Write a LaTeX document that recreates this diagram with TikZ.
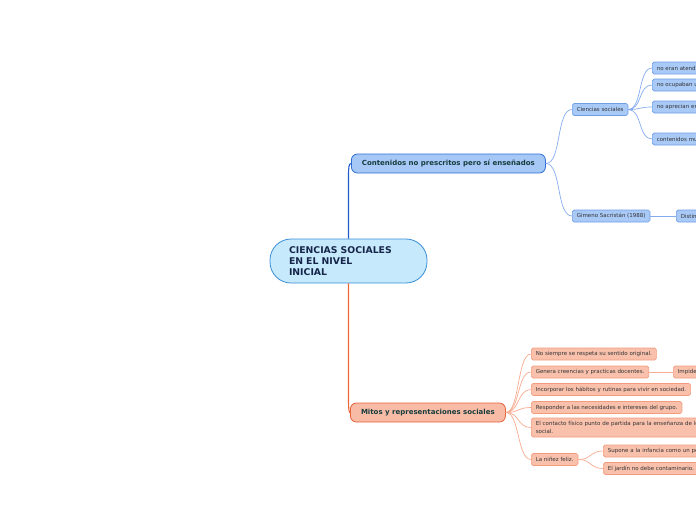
\documentclass[tikz,border=0pt]{standalone}
\usepackage{fontspec}
\setmainfont{DejaVu Sans}
\definecolor{rootfill}{HTML}{C6E9FB}
\definecolor{rootdraw}{HTML}{3A8FD9}
\definecolor{roottext}{HTML}{16264A}
\definecolor{bmainfill}{HTML}{A6C8F7}
\definecolor{bmaindraw}{HTML}{2F6ED4}
\definecolor{bleaffill}{HTML}{A9CAF7}
\definecolor{bleafdraw}{HTML}{6E9DE6}
\definecolor{bline}{HTML}{86ACEF}
\definecolor{bmainline}{HTML}{1F5CC8}
\definecolor{omainfill}{HTML}{F8BCA6}
\definecolor{omaindraw}{HTML}{E8603A}
\definecolor{oleaffill}{HTML}{F9C1AC}
\definecolor{oleafdraw}{HTML}{F39B7D}
\definecolor{oline}{HTML}{F7AB90}
\definecolor{omainline}{HTML}{EE6535}
\definecolor{maintext}{HTML}{173C3C}
\definecolor{leaftext}{HTML}{333333}
\begin{document}
\begin{tikzpicture}[x=1pt,y=-1pt,
  leafbase/.style={rectangle, rounded corners=1.8pt, line width=0.6pt, anchor=west,
    inner xsep=4.5pt, inner ysep=0pt, minimum height=12pt, align=left,
    text=leaftext, font=\fontsize{5.5}{7.5}\selectfont},
  bleaf/.style={leafbase, draw=bleafdraw, fill=bleaffill},
  oleaf/.style={leafbase, draw=oleafdraw, fill=oleaffill},
  mainbase/.style={rectangle, rounded corners=6pt, line width=0.8pt, anchor=west,
    inner xsep=10pt, inner ysep=0pt, minimum height=19pt, text=maintext,
    font=\fontsize{7}{8}\selectfont\bfseries},
  bmain/.style={mainbase, draw=bmaindraw, fill=bmainfill},
  omain/.style={mainbase, draw=omaindraw, fill=omainfill},
  rootbox/.style={rectangle, rounded corners=21pt, line width=0.8pt, draw=rootdraw,
    fill=rootfill, text=roottext, align=left, inner xsep=19pt, inner ysep=0pt,
    text width=119pt, minimum height=44pt,
    font=\fontsize{9.3}{11}\selectfont\bfseries},
  blink/.style={draw=bline, line width=0.7pt},
  olink/.style={draw=oline, line width=0.7pt},
]
\useasboundingbox (0,0) rectangle (696,520);
\clip (0,0) rectangle (696,520);

% root
\node[rootbox] (root) at (348.5,261) {CIENCIAS SOCIALES\\EN EL NIVEL\\INICIAL};

% level 1
\node[bmain, minimum width=194pt] (cont) at (351,163.5) {Contenidos no prescritos pero sí enseñados};
\node[omain, minimum width=155pt] (mitos) at (350,412.5) {Mitos y representaciones sociales};

\draw[bmainline, line width=1.1pt] (root.north) -- (348.5,176) .. controls (348.5,167) and (349,163.5) .. (cont.west);
\draw[omainline, line width=1.1pt] (root.south) -- (348.5,400) .. controls (348.5,409) and (349,412.5) .. (mitos.west);

% blue branch
\node[bleaf] (cs) at (572,109.5) {Ciencias sociales};
\node[bleaf] (gim) at (572,216) {Gimeno Sacristán (1988)};
\node[bleaf, text width=70pt] (b1) at (652,68) {no eran atendi};
\node[bleaf, text width=70pt] (b2) at (652,85) {no ocupaban u};
\node[bleaf, text width=70pt] (b3) at (652,107) {no aprecian en};
\node[bleaf, text width=70pt] (b4) at (652,139) {contenidos mu};
\node[bleaf, text width=40pt] (dis) at (676,216) {Distin};

\draw[blink] (cont.east) .. controls +(16,0) and +(-16,0) .. (cs.west);
\draw[blink] (cont.east) .. controls +(16,0) and +(-16,0) .. (gim.west);
\foreach \t in {b1,b2,b3,b4}
  \draw[blink] (cs.east) .. controls +(14,0) and +(-14,0) .. (\t.west);
\draw[blink] (gim.east) -- (dis.west);

% orange branch
\node[oleaf] (o1) at (531,354) {No siempre se respeta su sentido original.};
\node[oleaf] (o2) at (531,372) {Genera creencias y practicas docentes.};
\node[oleaf] (o3) at (531,389.5) {Incorporar los hábitos y rutinas para vivir en sociedad.};
\node[oleaf] (o4) at (531,407.5) {Responder a las necesidades e intereses del grupo.};
\node[oleaf, text width=190pt, minimum height=19pt] (o5) at (531,427.5) {El contacto físico punto de partida para la enseñanza de lo\\social.};
\node[oleaf] (o6) at (531,459.5) {La niñez feliz.};
\node[oleaf, text width=110pt] (imp) at (673,372) {Impide};
\node[oleaf, text width=110pt] (sup) at (603,451) {Supone a la infancia como un pe};
\node[oleaf] (jar) at (603,468.5) {El jardín no debe contaminario.};

\foreach \t in {o1,o2,o3,o4,o5,o6}
  \draw[olink] (mitos.east) .. controls +(14,0) and +(-14,0) .. (\t.west);
\draw[olink] (o2.east) -- (imp.west);
\draw[olink] (o6.east) .. controls +(13,0) and +(-13,0) .. (sup.west);
\draw[olink] (o6.east) .. controls +(13,0) and +(-13,0) .. (jar.west);
\end{tikzpicture}
\end{document}
